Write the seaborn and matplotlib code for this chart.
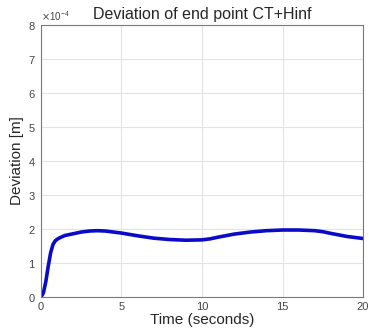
import numpy as np
import pandas as pd
import matplotlib
matplotlib.use("Agg")
import matplotlib.pyplot as plt
import seaborn as sns

time_s = [0, 0.15, 0.3, 0.45, 0.6, 0.75, 0.9, 1.05, 1.2, 1.5, 2, 2.5, 3, 3.5, 4, 4.5, 5, 6, 7, 8, 9, 10,
          10.5, 11, 12, 13, 14, 15, 16, 16.5, 17, 17.5, 18, 19, 20]
deviation_e4 = [0, 0.12, 0.45, 0.9, 1.3, 1.55, 1.66, 1.71, 1.75, 1.81, 1.86, 1.91, 1.94, 1.95, 1.94, 1.91, 1.88, 1.80, 1.73, 1.69, 1.67, 1.68,
                1.71, 1.76, 1.85, 1.91, 1.95, 1.97, 1.97, 1.96, 1.95, 1.92, 1.87, 1.78, 1.72]

df = pd.DataFrame({"t": time_s, "dev": np.array(deviation_e4) * 1e-4})

sns.set_style("whitegrid", {"grid.color": "#e3e3e3", "axes.edgecolor": "#7a7a7a"})
plt.rcParams['font.family'] = ['Liberation Sans', 'DejaVu Sans']

fig = plt.figure(figsize=(3.69, 3.36), dpi=100)
ax = fig.add_axes([0.111, 0.116, 0.873, 0.81])
sns.lineplot(data=df, x="t", y="dev", color="#0a0ac8", linewidth=2.6, ax=ax)

ax.set_xlim(0, 20)
ax.set_ylim(0, 8e-4)
ax.set_xticks([0, 5, 10, 15, 20])
ax.set_yticks(np.arange(0, 9) * 1e-4)
fmt = matplotlib.ticker.ScalarFormatter(useMathText=True)
fmt.set_powerlimits((-3, 3))
ax.yaxis.set_major_formatter(fmt)
ax.yaxis.get_offset_text().set_fontsize(7)
ax.yaxis.get_offset_text().set_color("#555555")
ax.tick_params(labelsize=8, colors="#444444", length=2, direction="in")
for s in ax.spines.values():
    s.set_linewidth(0.8)

ax.set_title("Deviation of end point CT+Hinf", fontsize=11.5, pad=4)
ax.set_xlabel("Time (seconds)", fontsize=11, labelpad=1)
ax.set_ylabel("Deviation [m]", fontsize=11, labelpad=3)

fig.savefig("out.png", dpi=100)
